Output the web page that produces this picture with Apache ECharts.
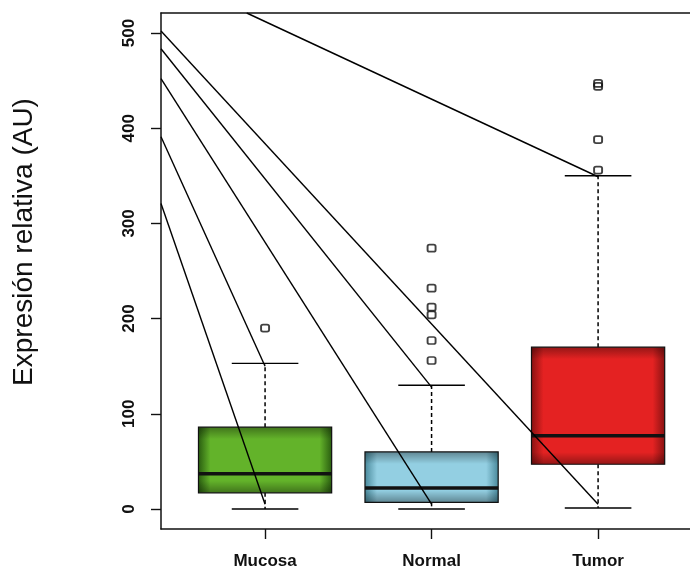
<!DOCTYPE html>
<html>
<head>
<meta charset="utf-8">
<script src="https://cdn.jsdelivr.net/npm/echarts@6/dist/echarts.min.js"></script>
<style>
  html, body { margin: 0; padding: 0; background: #fff; }
  #chart { width: 690px; height: 570px; }
</style>
</head>
<body>
<div id="chart"></div>
<script>
// Groups and their five-number summaries (AU)
const categories = ['Mucosa', 'Normal', 'Tumor'];
const whiskerLow  = [0, 0, 1];
const q1          = [17, 7, 47];
const median      = [37, 22, 77];
const q3          = [86, 60, 170];
const whiskerHigh = [153, 130, 350];

// Points beyond the whiskers
const outliersMucosa = [190];
const outliersNormal = [274, 232, 212, 204, 177, 156];
const outliersTumor  = [447, 444, 388, 356];

// Value-axis tick labels
const yTicks = [0, 100, 200, 300, 400, 500];

// Pointer lines: start and end points in data units [group position, AU]
const pointerFrom = [[0.375, 321], [0.375, 391], [0.375, 452], [0.375, 483.5], [0.375, 502], [0.89, 521]];
const pointerTo   = [[1, 5], [1, 150], [2, 5], [2, 128], [3, 5], [3, 349]];

// Box fill colours (centre / edge shading)
const boxColors = [
  { mid: '#63b32a', edge: '#2a5e10' },
  { mid: '#93cfe2', edge: '#4a8a9c' },
  { mid: '#e42222', edge: '#8a1212' }
];

const boxData = categories.map((c, i) => [i + 1, whiskerLow[i], q1[i], median[i], q3[i], whiskerHigh[i]]);
const outlierData = []
  .concat(outliersMucosa.map(v => [1, v]))
  .concat(outliersNormal.map(v => [2, v]))
  .concat(outliersTumor.map(v => [3, v]));
const pointerData = pointerFrom.map((p, i) => ({ coords: [p, pointerTo[i]] }));

function renderBox(params, api) {
  const idx = params.dataIndex;
  const x = api.value(0);
  const pLow = api.coord([x, api.value(1)]);
  const pQ1 = api.coord([x, api.value(2)]);
  const pMed = api.coord([x, api.value(3)]);
  const pQ3 = api.coord([x, api.value(4)]);
  const pHigh = api.coord([x, api.value(5)]);
  const boxW = api.size([0.8, 0])[0];
  const capW = api.size([0.4, 0])[0];
  const cx = pMed[0];
  const left = cx - boxW / 2;
  const top = pQ3[1];
  const h = pQ1[1] - pQ3[1];
  const col = boxColors[idx];
  const dash = { stroke: '#000', lineWidth: 1.5, lineDash: [4, 3] };
  const solid = { stroke: '#000', lineWidth: 1.4 };
  const edgeH = Math.min(0.25, 12 / h);
  return {
    type: 'group',
    children: [
      { type: 'line', shape: { x1: cx, y1: pQ3[1], x2: cx, y2: pHigh[1] }, style: dash },
      { type: 'line', shape: { x1: cx, y1: pQ1[1], x2: cx, y2: pLow[1] }, style: dash },
      { type: 'line', shape: { x1: cx - capW / 2, y1: pHigh[1], x2: cx + capW / 2, y2: pHigh[1] }, style: solid },
      { type: 'line', shape: { x1: cx - capW / 2, y1: pLow[1], x2: cx + capW / 2, y2: pLow[1] }, style: solid },
      {
        type: 'rect', shape: { x: left, y: top, width: boxW, height: h },
        style: {
          fill: new echarts.graphic.LinearGradient(0, 0, 1, 0, [
            { offset: 0, color: col.edge },
            { offset: 0.09, color: col.mid },
            { offset: 0.91, color: col.mid },
            { offset: 1, color: col.edge }
          ])
        }
      },
      {
        type: 'rect', shape: { x: left, y: top, width: boxW, height: h },
        style: {
          fill: new echarts.graphic.LinearGradient(0, 0, 0, 1, [
            { offset: 0, color: 'rgba(0,0,0,0.35)' },
            { offset: edgeH, color: 'rgba(0,0,0,0)' },
            { offset: 1 - edgeH, color: 'rgba(0,0,0,0)' },
            { offset: 1, color: 'rgba(0,0,0,0.35)' }
          ])
        }
      },
      { type: 'rect', shape: { x: left, y: top, width: boxW, height: h }, style: { fill: 'none', stroke: '#111', lineWidth: 1.2 } },
      { type: 'line', shape: { x1: left, y1: pMed[1], x2: left + boxW, y2: pMed[1] }, style: { stroke: '#111', lineWidth: 3.5 } }
    ]
  };
}

const chart = echarts.init(document.getElementById('chart'));
chart.setOption({
  animation: false,
  backgroundColor: '#fff',
  grid: { left: 161, right: 0, top: 13, bottom: 40 },
  graphic: [{
    type: 'text',
    x: 24, y: 242,
    rotation: Math.PI / 2,
    style: {
      text: 'Expresión relativa (AU)',
      font: '28px "Liberation Sans", Arial, sans-serif',
      fill: '#111',
      align: 'center',
      verticalAlign: 'middle'
    }
  }],
  xAxis: [{
    type: 'value',
    min: 0.375,
    max: 3.552,
    splitLine: { show: false },
    axisLine: { show: true, onZero: false, lineStyle: { color: '#111', width: 1.5 } },
    axisTick: { show: true, length: 10, customValues: [1, 2, 3], lineStyle: { color: '#111', width: 1.4 } },
    axisLabel: {
      customValues: [1, 2, 3],
      formatter: v => categories[Math.round(v) - 1] || '',
      margin: 24,
      fontFamily: '"Liberation Sans", Arial, sans-serif',
      fontWeight: 'bold',
      fontSize: 17,
      color: '#111'
    }
  }, {
    type: 'value',
    position: 'top',
    min: 0.375,
    max: 3.552,
    splitLine: { show: false },
    axisLine: { show: true, onZero: false, lineStyle: { color: '#111', width: 1.5 } },
    axisTick: { show: false },
    axisLabel: { show: false }
  }],
  yAxis: {
    type: 'value',
    min: -21,
    max: 521,
    splitLine: { show: false },
    axisLine: { show: true, onZero: false, lineStyle: { color: '#111', width: 1.5 } },
    axisTick: { show: true, length: 10, customValues: yTicks, lineStyle: { color: '#111', width: 1.4 } },
    axisLabel: {
      customValues: yTicks,
      rotate: 90,
      margin: 23,
      fontFamily: '"Liberation Sans", Arial, sans-serif',
      fontWeight: 'bold',
      fontSize: 17,
      color: '#111'
    }
  },
  series: [{
    type: 'custom',
    name: 'boxes',
    renderItem: renderBox,
    encode: { x: 0, y: [1, 5] },
    data: boxData,
    z: 2
  }, {
    type: 'scatter',
    name: 'outliers',
    data: outlierData,
    symbol: 'roundRect',
    symbolSize: [8, 7],
    itemStyle: { color: 'rgba(0,0,0,0)', borderColor: '#111', borderWidth: 1.8 },
    z: 3
  }, {
    type: 'lines',
    coordinateSystem: 'cartesian2d',
    data: pointerData,
    lineStyle: { color: '#000', width: 1.4, opacity: 1, curveness: 0 },
    symbol: 'none',
    silent: true,
    z: 4
  }]
});
</script>
</body>
</html>
